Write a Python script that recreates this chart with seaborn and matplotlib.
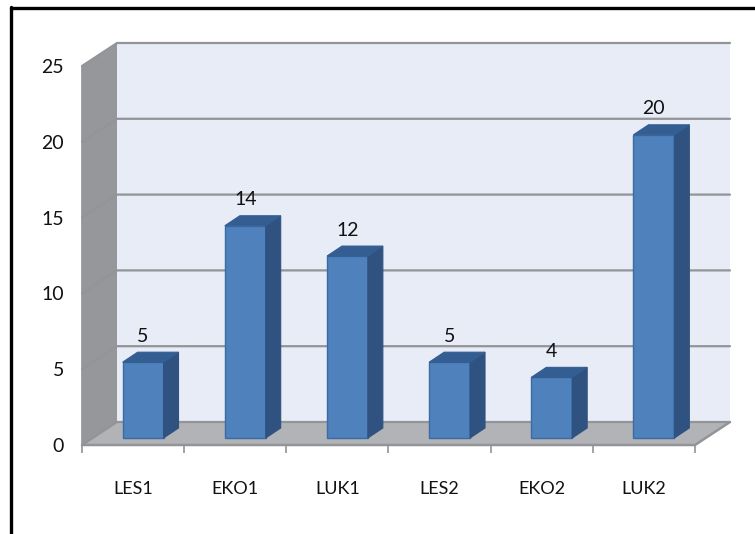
import matplotlib
matplotlib.use("Agg")
import matplotlib.pyplot as plt
import seaborn as sns
import pandas as pd
from matplotlib.lines import Line2D
from matplotlib.patches import Polygon

categories = ["LES1", "EKO1", "LUK1", "LES2", "EKO2", "LUK2"]
values = [5, 14, 12, 5, 4, 20]
y_ticks = [0, 5, 10, 15, 20, 25]

W, H = 755, 534
L, R, T, B = 82, 695, 66, 445          # front plane of the 3-D box, in pixels
WALL_DX, WALL_DY = 35, 23              # depth of the box, in pixels
BAR_DX, BAR_DY = 10, 7                 # where bars stand on the floor
SIDE_DX, SIDE_DY = 15, 10              # depth of each bar

sns.set_style("white")
plt.rcParams["font.family"] = ["Lato", "DejaVu Sans"]

fig = plt.figure(figsize=(W / 100, H / 100), dpi=100, facecolor="white")
ax = fig.add_axes([L / W, 1 - B / H, (R - L) / W, (B - T) / H])

df = pd.DataFrame({"cat": categories, "val": values})
sns.barplot(data=df, x="cat", y="val", color="#4f81bd", width=0.40, saturation=1,
            ax=ax, zorder=5, edgecolor="#3a6ba5", linewidth=1)

ax.set_xlim(-0.5, len(categories) - 0.5)
ax.set_ylim(0, 25)
ux = (len(categories)) / (R - L)
uy = 25 / (B - T)
wx, wy = WALL_DX * ux, WALL_DY * uy
x0, x1 = ax.get_xlim()

GRID = "#929497"
# walls and floor
ax.add_patch(Polygon([(x0 + wx, wy), (x1 + wx, wy), (x1 + wx, 25 + wy), (x0 + wx, 25 + wy)],
                     fc="#e8ecf6", ec="none", zorder=0, clip_on=False))
ax.add_patch(Polygon([(x0, 0), (x0 + wx, wy), (x0 + wx, 25 + wy), (x0, 25)],
                     fc="#95979a", ec="none", zorder=1, clip_on=False))
ax.add_patch(Polygon([(x0, 0), (x1, 0), (x1 + wx, wy), (x0 + wx, wy)],
                     fc="#b1b3b6", ec="none", zorder=1, clip_on=False))
# gridlines wrapping the box
for v in y_ticks:
    ax.add_line(Line2D([x0, x0 + wx, x1 + wx], [v, v + wy, v + wy], color=GRID, lw=1.6,
                       zorder=2, clip_on=False, solid_joinstyle="miter"))
ax.add_line(Line2D([x0, x1, x1 + wx], [0, 0, wy], color=GRID, lw=1.8, zorder=3, clip_on=False))
ax.add_line(Line2D([x0, x0], [0, 25], color=GRID, lw=1.2, zorder=3, clip_on=False))

# turn the flat bars into boxes
bx, by = BAR_DX * ux, BAR_DY * uy
sx, sy = SIDE_DX * ux, SIDE_DY * uy
for p, v in zip(ax.patches[:len(values)], values):
    xa = p.get_x() + bx
    w = p.get_width()
    xb = xa + w
    p.set_x(xa)
    p.set_y(by)
    top = by + v
    ax.add_patch(Polygon([(xb, by), (xb + sx, by + sy), (xb + sx, top + sy), (xb, top)],
                         fc="#2f5280", ec="#2f5280", lw=0.8, zorder=5))
    ax.add_patch(Polygon([(xa, top), (xa + sx, top + sy), (xb + sx, top + sy), (xb, top)],
                         fc="#345d91", ec="#345d91", lw=0.8, zorder=5))
    ax.annotate(str(v), (xa + w / 2, top), xytext=(0, 26), textcoords="offset pixels",
                ha="center", va="center", fontsize=14, color="#111111", zorder=6)

for s in ax.spines.values():
    s.set_visible(False)
ax.patch.set_alpha(0)
ax.set_xlabel("")
ax.set_ylabel("")
ax.set_yticks(y_ticks)
ax.set_yticklabels([str(v) for v in y_ticks])
ax.tick_params(axis="y", length=0, pad=13, labelsize=14, labelcolor="#111111")
ax.set_xticks([i - 0.5 for i in range(len(categories) + 1)])
ax.set_xticklabels([])
ax.set_xticks(range(len(categories)), minor=True)
ax.set_xticklabels(categories, minor=True)
ax.tick_params(axis="x", which="major", length=6, width=1.2, color=GRID, bottom=True)
ax.tick_params(axis="x", which="minor", length=0, pad=26, labelsize=13, labelcolor="#111111")

# black outer frame, only top and left reach the picture
fig.add_artist(Line2D([10.5 / W, 1], [1 - 7.5 / H, 1 - 7.5 / H], color="black", lw=2.4,
                      transform=fig.transFigure))
fig.add_artist(Line2D([10.5 / W, 10.5 / W], [1 - 7 / H, 0], color="black", lw=2.4,
                      transform=fig.transFigure))

fig.savefig("out.png", dpi=100, facecolor="white")
